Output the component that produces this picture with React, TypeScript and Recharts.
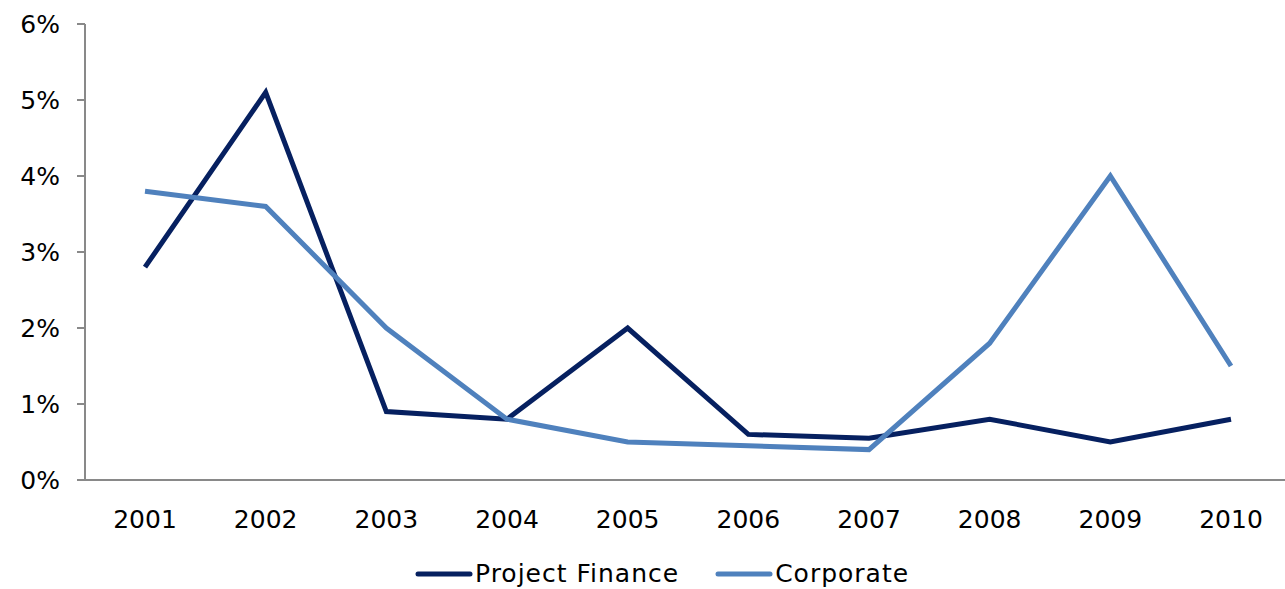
import { LineChart, Line, XAxis, YAxis, Legend } from 'recharts';

const years = ['2001', '2002', '2003', '2004', '2005', '2006', '2007', '2008', '2009', '2010'];
const projectFinance = [2.8, 5.1, 0.9, 0.8, 2.0, 0.6, 0.55, 0.8, 0.5, 0.8];
const corporate = [3.8, 3.6, 2.0, 0.8, 0.5, 0.45, 0.4, 1.8, 4.0, 1.5];
const yTicks = [0, 1, 2, 3, 4, 5, 6];
// category boundaries for the tick marks between years
const boundaryTicks = [0, 1, 2, 3, 4, 5, 6, 7, 8, 9, 10];

const DARK = '#062060';
const LIGHT = '#4F81BD';
const AXIS = '#898989';
const FONT = '"DejaVu Sans", Verdana, sans-serif';

const data = years.map((y, i) => ({ year: y, pf: projectFinance[i], corp: corporate[i] }));

const legendItems = [
    { name: 'Project Finance', color: DARK },
    { name: 'Corporate', color: LIGHT },
];

function renderLegend() {
    return (
        <div style={{ display: 'flex', alignItems: 'center', height: 59, paddingTop: 28, boxSizing: 'border-box', paddingLeft: 415, fontFamily: FONT, fontSize: 25, letterSpacing: 1, color: '#000' }}>
            {legendItems.map((it, i) => (
                <div key={it.name} style={{ display: 'flex', alignItems: 'center', marginLeft: i ? 36 : 0 }}>
                    <svg width={58} height={8}>
                        <line x1={3} y1={4} x2={55} y2={4} stroke={it.color} strokeWidth={5} strokeLinecap="round" />
                    </svg>
                    <span style={{ marginLeft: 2 }}>{it.name}</span>
                </div>
            ))}
        </div>
    );
}

export default function App() {
    return (
        <div style={{ position: 'absolute', left: 0, top: 0, width: 1285, height: 589, overflow: 'hidden', background: '#fff' }}>
            <LineChart width={1292} height={589} data={data} margin={{ top: 24, right: 1, left: 0, bottom: 0 }}>
                {/* axis line + boundary ticks between the year categories */}
                <XAxis
                    type="number"
                    domain={[0, 10]}
                    ticks={boundaryTicks}
                    stroke={AXIS}
                    strokeWidth={2}
                    tickSize={10}
                    tick={false}
                    height={1}
                    interval={0}
                />
                <XAxis
                    xAxisId="labels"
                    dataKey="year"
                    padding={{ left: 60, right: 60 }}
                    axisLine={false}
                    tickLine={false}
                    tickMargin={23}
                    height={49}
                    tick={{ fill: '#000', fontSize: 25, fontFamily: FONT }}
                    interval={0}
                />
                <YAxis
                    domain={[0, 6]}
                    ticks={yTicks}
                    width={85}
                    stroke={AXIS}
                    strokeWidth={2}
                    tickSize={8}
                    tickMargin={17}
                    tickFormatter={(v) => `${v}%`}
                    tick={{ fill: '#000', fontSize: 25, fontFamily: FONT }}
                    interval={0}
                />
                <Legend verticalAlign="bottom" content={renderLegend} height={59} />
                <Line xAxisId="labels" dataKey="pf" name="Project Finance" stroke={DARK} strokeWidth={5} dot={false} isAnimationActive={false} />
                <Line xAxisId="labels" dataKey="corp" name="Corporate" stroke={LIGHT} strokeWidth={5} dot={false} isAnimationActive={false} />
            </LineChart>
        </div>
    );
}
